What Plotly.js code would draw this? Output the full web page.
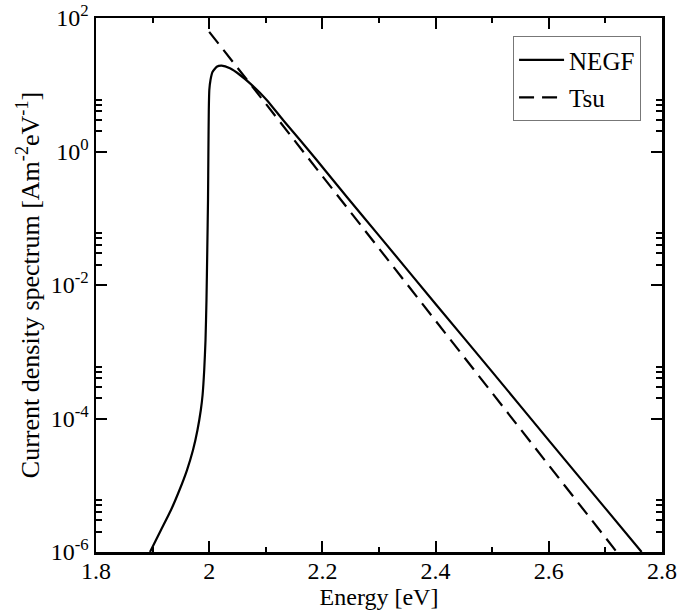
<!DOCTYPE html>
<html>
<head>
<meta charset="utf-8">
<script src="https://cdn.plot.ly/plotly-3.0.1.min.js"></script>
<style>html,body{margin:0;padding:0;background:#fff;}</style>
</head>
<body>
<div id="chart" style="width:697px;height:610px;"></div>
<script>
// NEGF current density spectrum (energy in eV, value in A m^-2 eV^-1)
var negfEnergy = [1.8954, 1.9148, 1.9325, 1.9475, 1.9608, 1.9714, 1.9793, 1.9852, 1.9883, 1.9912,
                  1.9935, 1.9952, 1.9966, 1.9979, 1.9986, 1.9993, 2.0002, 2.0023, 2.0058, 2.0133,
                  2.0219, 2.0367, 2.0544, 2.0721, 2.1016, 2.1304, 2.1604, 2.1899, 2.2187, 2.2429,
                  2.30, 2.40, 2.50, 2.60, 2.70, 2.764];
var negfValue  = [1.0e-6, 2.14e-6, 4.26e-6, 8.49e-6, 1.69e-5, 3.37e-5, 6.73e-5, 1.34e-4, 2.25e-4, 5.33e-4,
                  1.50e-3, 5.96e-3, 3.34e-2, 0.187, 1.05, 4.19, 8.34, 11.8, 15.5, 18.6,
                  19.3, 17.6, 14.0, 10.5, 5.92, 2.96, 1.49, 0.746, 0.374, 0.210,
                  5.5e-2, 5.2e-3, 5.0e-4, 4.7e-5, 4.5e-6, 1.0e-6];
// Tsu model
var tsuEnergy = [2.0, 2.05, 2.10, 2.20, 2.30, 2.40, 2.50, 2.60, 2.72];
var tsuValue  = [62.0, 18.1, 5.20, 0.427, 3.55e-2, 2.95e-3, 2.40e-4, 2.0e-5, 1.0e-6];

var yTickVals = [1e-6, 1e-4, 1e-2, 1, 100];
var yTickText = ["10<sup>-6</sup>", "10<sup>-4</sup>", "10<sup>-2</sup>", "10<sup>0</sup>", "10<sup>2</sup>"];
var yMinorVals = [];
[1e-6, 1e-4, 1e-2, 1].forEach(function (d) {
  [2, 3, 4, 5, 6].forEach(function (m) { yMinorVals.push(m * d); });
});

var SERIF = "Liberation Serif, Times New Roman, serif";

var traces = [
  {x: negfEnergy, y: negfValue, type: 'scatter', mode: 'lines', name: 'NEGF',
   legendgroup: 'a', line: {color: '#000', width: 2.2, shape: 'spline', smoothing: 0.5}},
  {x: tsuEnergy, y: tsuValue, type: 'scatter', mode: 'lines', name: 'Tsu',
   legendgroup: 'b', line: {color: '#000', width: 2.2, dash: '15px,8px'}}
];

var layout = {
  width: 697, height: 610,
  margin: {l: 96, r: 35, t: 18, b: 58},
  paper_bgcolor: '#fff', plot_bgcolor: '#fff',
  font: {family: SERIF, color: '#000', size: 24},
  showlegend: true,
  legend: {x: 0.963, xanchor: 'right', y: 0.966, yanchor: 'top',
           bgcolor: '#fff', bordercolor: '#777', borderwidth: 1,
           itemwidth: 45,
           font: {size: 25, family: SERIF, color: '#000'},
           traceorder: 'grouped', tracegroupgap: 2},
  xaxis: {
    range: [1.8, 2.8], tick0: 1.8, dtick: 0.2,
    ticks: 'inside', ticklen: 11, tickwidth: 2, tickcolor: '#000',
    minor: {dtick: 0.1, tick0: 1.8, ticks: 'inside', ticklen: 5, tickwidth: 2, tickcolor: '#000', showgrid: false},
    showline: true, linewidth: 2.5, linecolor: '#000', mirror: 'allticks',
    showgrid: false, zeroline: false,
    tickfont: {size: 24, family: SERIF}, ticklabelstandoff: -4, automargin: false,
    title: {text: 'Energy [eV]', font: {size: 24, family: SERIF}, standoff: 0}
  },
  yaxis: {
    type: 'log', range: [-6, 2],
    tickmode: 'array', tickvals: yTickVals, ticktext: yTickText,
    ticks: 'inside', ticklen: 11, tickwidth: 2, tickcolor: '#000',
    minor: {tickvals: yMinorVals, ticks: 'inside', ticklen: 6, tickwidth: 2, tickcolor: '#000', showgrid: false},
    showline: true, linewidth: 2.5, linecolor: '#000', mirror: 'allticks',
    showgrid: false, zeroline: false,
    tickfont: {size: 24, family: SERIF}, automargin: false,
    title: {text: 'Current density spectrum [Am<sup>-2</sup>eV<sup>-1</sup>]', font: {size: 26, family: SERIF}, standoff: 4}
  }
};

Plotly.newPlot('chart', traces, layout, {displayModeBar: false, staticPlot: true});
</script>
</body>
</html>
